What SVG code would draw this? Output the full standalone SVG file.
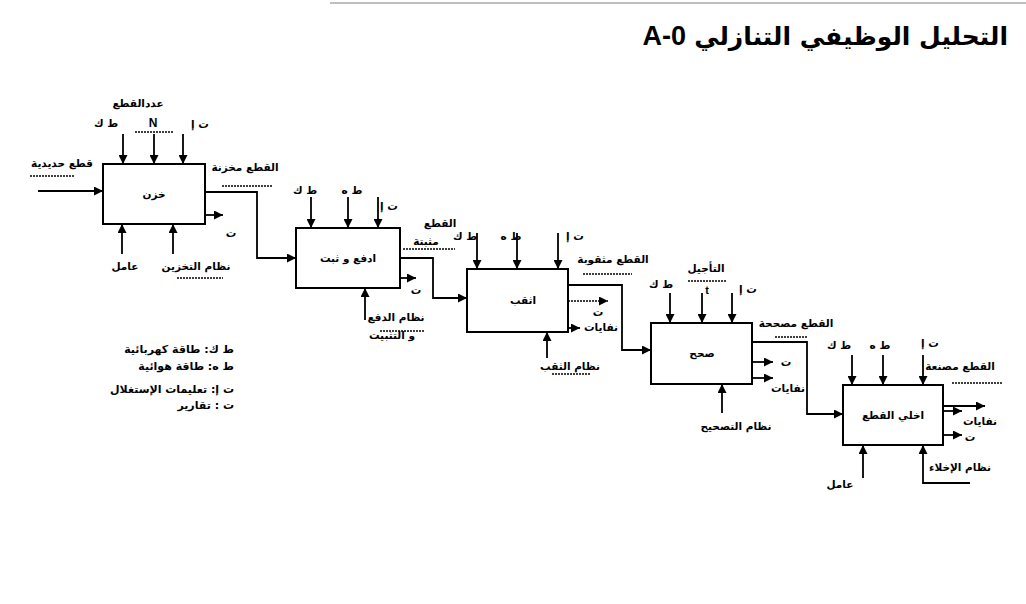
<svg xmlns="http://www.w3.org/2000/svg" width="1026" height="604" viewBox="0 0 1026 604">
<style>
  .ar { font-family: "DejaVu Sans", "Noto Sans", sans-serif; font-weight: bold; font-size: 10.5px; fill: #000; }
  .lat { font-family: "Liberation Sans", Arial, sans-serif; font-weight: bold; fill: #000; }
  .box { fill: #fff; stroke: #000; stroke-width: 2; }
  .ln { fill: none; stroke: #000; stroke-width: 1.8; }
  .dot { fill: none; stroke: #000; stroke-width: 1.6; stroke-dasharray: 2 1; }
  .leg { font-family: "DejaVu Sans", "Noto Sans", sans-serif; font-weight: bold; font-size: 11px; fill: #000; }
</style>
<defs>
  <marker id="ah" viewBox="0 0 10 10" refX="10" refY="5" markerWidth="10" markerHeight="9" markerUnits="userSpaceOnUse" orient="auto">
    <path d="M0,0 L10,5 L0,10 z" fill="#000"/>
  </marker>
</defs>
<rect width="1026" height="604" fill="#fff"/>
<line x1="330" y1="3" x2="1026" y2="3" stroke="#aaa" stroke-width="1.5"/>

<g id="title">
  <text x="1008" y="45" text-anchor="end" font-family="DejaVu Sans, sans-serif" font-weight="bold" font-size="25">التحليل الوظيفي التنازلي</text>
  <text x="686" y="45" text-anchor="end" class="lat" font-size="27">A-0</text>
</g>

<g id="connectors">
  <!-- box1 -->
  <line class="ln" x1="38" y1="191" x2="103" y2="191" marker-end="url(#ah)"/>
  <line class="ln" x1="123" y1="134" x2="123" y2="164" marker-end="url(#ah)"/>
  <line class="ln" x1="154" y1="134" x2="154" y2="164" marker-end="url(#ah)"/>
  <line class="ln" x1="183" y1="134" x2="183" y2="164" marker-end="url(#ah)"/>
  <line class="ln" x1="122" y1="254" x2="122" y2="224" marker-end="url(#ah)"/>
  <line class="ln" x1="173" y1="254" x2="173" y2="224" marker-end="url(#ah)"/>
  <line class="ln" x1="205" y1="215" x2="223" y2="215" marker-end="url(#ah)"/>
  <polyline class="ln" points="205,192 257,192 257,258 296,258" marker-end="url(#ah)"/>
  <!-- box2 -->
  <line class="ln" x1="311" y1="197" x2="311" y2="228" marker-end="url(#ah)"/>
  <line class="ln" x1="348" y1="197" x2="348" y2="228" marker-end="url(#ah)"/>
  <line class="ln" x1="378" y1="197" x2="378" y2="228" marker-end="url(#ah)"/>
  <line class="ln" x1="365" y1="320" x2="365" y2="288" marker-end="url(#ah)"/>
  <line class="ln" x1="400" y1="278" x2="416" y2="278" marker-end="url(#ah)"/>
  <polyline class="ln" points="400,258 433,258 433,298 467,298" marker-end="url(#ah)"/>
  <!-- box3 -->
  <line class="ln" x1="477" y1="233" x2="477" y2="269" marker-end="url(#ah)"/>
  <line class="ln" x1="517" y1="233" x2="517" y2="269" marker-end="url(#ah)"/>
  <line class="ln" x1="558" y1="233" x2="558" y2="269" marker-end="url(#ah)"/>
  <line class="ln" x1="547" y1="358" x2="547" y2="332" marker-end="url(#ah)"/>
  <line class="dot" x1="568" y1="301" x2="608" y2="301" marker-end="url(#ah)"/>
  <line class="ln" x1="568" y1="328" x2="580" y2="328" marker-end="url(#ah)"/>
  <polyline class="ln" points="568,285 622,285 622,350 651,350" marker-end="url(#ah)"/>
  <!-- box4 -->
  <line class="ln" x1="670" y1="293" x2="670" y2="323" marker-end="url(#ah)"/>
  <line class="ln" x1="702" y1="293" x2="702" y2="323" marker-end="url(#ah)"/>
  <line class="ln" x1="732" y1="293" x2="732" y2="323" marker-end="url(#ah)"/>
  <line class="ln" x1="722" y1="413" x2="722" y2="384" marker-end="url(#ah)"/>
  <line class="ln" x1="752" y1="362" x2="773" y2="362" marker-end="url(#ah)"/>
  <line class="ln" x1="752" y1="378" x2="773" y2="378" marker-end="url(#ah)"/>
  <polyline class="ln" points="752,342 807,342 807,414 843,414" marker-end="url(#ah)"/>
  <!-- box5 -->
  <line class="ln" x1="852" y1="355" x2="852" y2="385" marker-end="url(#ah)"/>
  <line class="ln" x1="883" y1="355" x2="883" y2="385" marker-end="url(#ah)"/>
  <line class="ln" x1="923" y1="355" x2="923" y2="385" marker-end="url(#ah)"/>
  <line class="ln" x1="863" y1="478" x2="863" y2="445" marker-end="url(#ah)"/>
  <polyline class="ln" points="970,483 923,483 923,445" marker-end="url(#ah)"/>
  <line class="ln" x1="943" y1="406" x2="985" y2="406" marker-end="url(#ah)"/>
  <line class="ln" x1="943" y1="411" x2="962" y2="411" marker-end="url(#ah)"/>
  <line class="ln" x1="943" y1="435" x2="962" y2="435" marker-end="url(#ah)"/>
</g>

<g id="labels">
  <!-- box1 labels -->
  <text class="ar" x="62" y="167" text-anchor="middle">قطع حديدية</text>
  <line class="dot" x1="30" y1="176" x2="75" y2="176"/>
  <text class="ar" x="138" y="107" text-anchor="middle">عددالقطع</text>
  <text class="ar" x="106" y="127" text-anchor="middle">ط ك</text>
  <text class="lat" x="153" y="127" text-anchor="middle" font-size="12">N</text>
  <line class="dot" x1="135" y1="132" x2="173" y2="132"/>
  <text class="ar" x="200" y="128" text-anchor="middle">ت إ</text>
  <text class="ar" x="245" y="171" text-anchor="middle">القطع مخزنة</text>
  <line class="dot" x1="222" y1="186" x2="272" y2="186"/>
  <text class="ar" x="231" y="237" text-anchor="middle">ت</text>
  <text class="ar" x="125" y="270" text-anchor="middle">عامل</text>
  <text class="ar" x="196" y="270" text-anchor="middle">نظام التخزين</text>
  <line class="dot" x1="177" y1="278" x2="223" y2="278"/>
  <!-- box2 labels -->
  <text class="ar" x="305" y="194" text-anchor="middle">ط ك</text>
  <text class="ar" x="352" y="194" text-anchor="middle">ط ه</text>
  <text class="ar" x="389" y="210" text-anchor="middle">ت إ</text>
  <text class="ar" x="440" y="227" text-anchor="middle">القطع</text>
  <text class="ar" x="426" y="245" text-anchor="middle">مثبتة</text>
  <line class="dot" x1="403" y1="249" x2="455" y2="249"/>
  <text class="ar" x="416" y="294" text-anchor="middle">ت</text>
  <text class="ar" x="396" y="321" text-anchor="middle">نظام الدفع</text>
  <line class="dot" x1="380" y1="331" x2="425" y2="331"/>
  <text class="ar" x="392" y="339" text-anchor="middle">و التثبيت</text>
  <!-- box3 labels -->
  <text class="ar" x="465" y="240" text-anchor="middle">ط ك</text>
  <text class="ar" x="511" y="240" text-anchor="middle">ط ه</text>
  <text class="ar" x="575" y="240" text-anchor="middle">ت إ</text>
  <text class="ar" x="613" y="263" text-anchor="middle">القطع مثقوبة</text>
  <line class="dot" x1="583" y1="274" x2="632" y2="274"/>
  <text class="ar" x="598" y="316" text-anchor="middle">ت</text>
  <text class="ar" x="601" y="331" text-anchor="middle">نفايات</text>
  <text class="ar" x="570" y="370" text-anchor="middle">نظام الثقب</text>
  <line class="dot" x1="552" y1="374" x2="590" y2="374"/>
  <!-- box4 labels -->
  <text class="ar" x="661" y="288" text-anchor="middle">ط ك</text>
  <text class="ar" x="706" y="272" text-anchor="middle">التأجيل</text>
  <line class="dot" x1="688" y1="281" x2="727" y2="281"/>
  <text class="lat" x="707" y="294" text-anchor="middle" font-size="11">t</text>
  <text class="ar" x="748" y="293" text-anchor="middle">ت إ</text>
  <text class="ar" x="796" y="327" text-anchor="middle">القطع مصححة</text>
  <line class="dot" x1="775" y1="337" x2="807" y2="337"/>
  <text class="ar" x="786" y="366" text-anchor="middle">ت</text>
  <text class="ar" x="788" y="392" text-anchor="middle">نفايات</text>
  <text class="ar" x="736" y="430" text-anchor="middle">نظام التصحيح</text>
  <!-- box5 labels -->
  <text class="ar" x="839" y="349" text-anchor="middle">ط ك</text>
  <text class="ar" x="880" y="349" text-anchor="middle">ط ه</text>
  <text class="ar" x="930" y="347" text-anchor="middle">ت إ</text>
  <text class="ar" x="960" y="370" text-anchor="middle">القطع مصنعة</text>
  <line class="dot" x1="952" y1="383" x2="1002" y2="383"/>
  <text class="ar" x="980" y="425" text-anchor="middle">نفايات</text>
  <text class="ar" x="970" y="441" text-anchor="middle">ت</text>
  <text class="ar" x="840" y="488" text-anchor="middle">عامل</text>
  <text class="ar" x="960" y="471" text-anchor="middle">نظام الإخلاء</text>
</g>

<g id="n1"><rect class="box" x="103" y="164" width="102" height="60"/><text class="ar" x="154" y="198" text-anchor="middle">خزن</text></g>
<g id="n2"><rect class="box" x="296" y="228" width="104" height="60"/><text class="ar" x="348" y="262" text-anchor="middle">ادفع و ثبت</text></g>
<g id="n3"><rect class="box" x="467" y="269" width="101" height="63"/><text class="ar" x="523" y="304" text-anchor="middle">اثقب</text></g>
<g id="n4"><rect class="box" x="651" y="323" width="101" height="61"/><text class="ar" x="702" y="357" text-anchor="middle">صحح</text></g>
<g id="n5"><rect class="box" x="843" y="385" width="100" height="60"/><text class="ar" x="893" y="419" text-anchor="middle">اخلي القطع</text></g>

<g id="legend">
  <text class="leg" x="234" y="353" text-anchor="end">ط ك: طاقة كهربائية</text>
  <text class="leg" x="234" y="370" text-anchor="end">ط ه: طاقة هوائية</text>
  <text class="leg" x="234" y="393" text-anchor="end">ت إ: تعليمات الإستغلال</text>
  <text class="leg" x="234" y="409" text-anchor="end">ت  :  تقارير</text>
</g>
</svg>
